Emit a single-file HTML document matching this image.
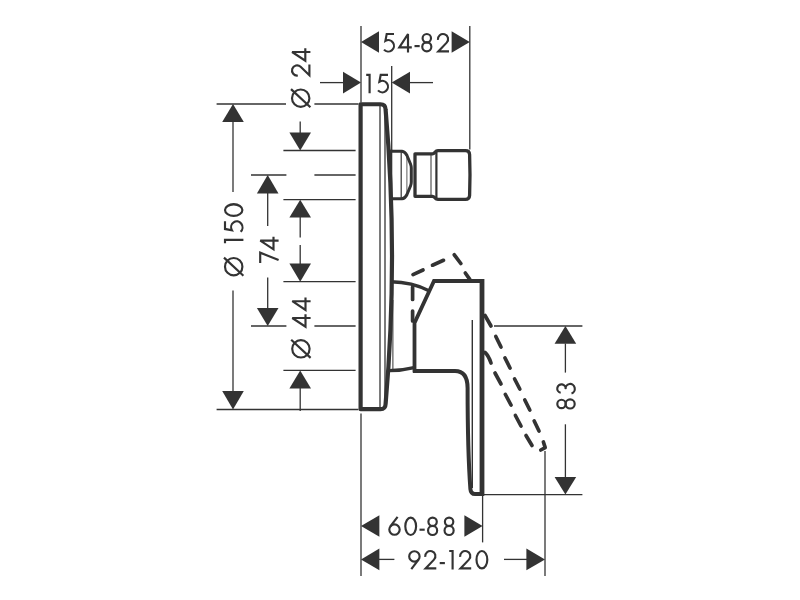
<!DOCTYPE html>
<html><head><meta charset="utf-8"><title>Dimension drawing</title>
<style>
html,body{margin:0;padding:0;background:#fff;font-family:"Liberation Sans",sans-serif;}
svg{display:block;}
</style></head>
<body>
<svg width="800" height="600" viewBox="0 0 800 600">
<rect x="0" y="0" width="800" height="600" fill="#fff"/>
<line x1="216.6" y1="104" x2="286" y2="104" stroke="#333" stroke-width="1.3"/>
<line x1="314.4" y1="104" x2="358.5" y2="104" stroke="#333" stroke-width="1.3"/>
<polygon points="233,104 222.20,122.00 243.80,122.00" fill="#333"/>
<line x1="233" y1="121.5" x2="233" y2="192" stroke="#333" stroke-width="1.3"/>
<line x1="233" y1="290.6" x2="233" y2="391.5" stroke="#333" stroke-width="1.3"/>
<polygon points="233,409.5 243.80,391.00 222.20,391.00" fill="#333"/>
<line x1="216.6" y1="409.5" x2="358.5" y2="409.5" stroke="#333" stroke-width="1.3"/>
<line x1="300.2" y1="121.4" x2="300.2" y2="133" stroke="#333" stroke-width="1.3"/>
<polygon points="300.2,150.5 311.00,132.40 289.40,132.40" fill="#333"/>
<line x1="283.4" y1="150.5" x2="355.6" y2="150.5" stroke="#333" stroke-width="1.3"/>
<line x1="251" y1="175" x2="286.4" y2="175" stroke="#333" stroke-width="1.3"/>
<line x1="314.4" y1="175" x2="355.6" y2="175" stroke="#333" stroke-width="1.3"/>
<polygon points="267.7,175 256.90,193.40 278.50,193.40" fill="#333"/>
<line x1="267.7" y1="193" x2="267.7" y2="226" stroke="#333" stroke-width="1.3"/>
<line x1="267.7" y1="277.5" x2="267.7" y2="308.5" stroke="#333" stroke-width="1.3"/>
<polygon points="267.7,326 278.50,308.00 256.90,308.00" fill="#333"/>
<line x1="251" y1="326" x2="286.4" y2="326" stroke="#333" stroke-width="1.3"/>
<line x1="314.4" y1="326" x2="355.6" y2="326" stroke="#333" stroke-width="1.3"/>
<line x1="283.4" y1="199.7" x2="355.6" y2="199.7" stroke="#333" stroke-width="1.3"/>
<polygon points="300.2,199.7 289.40,217.50 311.00,217.50" fill="#333"/>
<line x1="300.2" y1="217" x2="300.2" y2="237.5" stroke="#333" stroke-width="1.3"/>
<line x1="300.2" y1="245" x2="300.2" y2="264" stroke="#333" stroke-width="1.3"/>
<polygon points="300.2,281.7 311.00,263.50 289.40,263.50" fill="#333"/>
<line x1="283.4" y1="281.7" x2="355.6" y2="281.7" stroke="#333" stroke-width="1.3"/>
<line x1="283.4" y1="370.4" x2="355.6" y2="370.4" stroke="#333" stroke-width="1.3"/>
<polygon points="300.2,370.4 289.40,388.40 311.00,388.40" fill="#333"/>
<line x1="300.2" y1="388" x2="300.2" y2="411" stroke="#333" stroke-width="1.3"/>
<line x1="361" y1="26" x2="361" y2="102.5" stroke="#333" stroke-width="1.3"/>
<line x1="469.8" y1="26" x2="469.8" y2="149.5" stroke="#333" stroke-width="1.3"/>
<polygon points="361,42 379.00,52.80 379.00,31.20" fill="#333"/>
<polygon points="469.8,42 451.60,31.20 451.60,52.80" fill="#333"/>
<line x1="320" y1="82.6" x2="343.5" y2="82.6" stroke="#333" stroke-width="1.3"/>
<polygon points="361,82.6 343.00,71.80 343.00,93.40" fill="#333"/>
<line x1="391.7" y1="66" x2="391.7" y2="150" stroke="#333" stroke-width="1.3"/>
<polygon points="391.7,82.6 410.00,93.40 410.00,71.80" fill="#333"/>
<line x1="409.5" y1="82.6" x2="433" y2="82.6" stroke="#333" stroke-width="1.3"/>
<line x1="494" y1="326" x2="582.4" y2="326" stroke="#333" stroke-width="1.3"/>
<polygon points="565.4,326 554.60,343.80 576.20,343.80" fill="#333"/>
<line x1="565.4" y1="343.5" x2="565.4" y2="372.6" stroke="#333" stroke-width="1.3"/>
<line x1="565.4" y1="424.3" x2="565.4" y2="477.5" stroke="#333" stroke-width="1.3"/>
<polygon points="565.4,494.6 576.20,477.00 554.60,477.00" fill="#333"/>
<line x1="483" y1="494.6" x2="582.4" y2="494.6" stroke="#333" stroke-width="1.3"/>
<line x1="361" y1="413.5" x2="361" y2="576" stroke="#333" stroke-width="1.3"/>
<polygon points="361,526 379.40,536.80 379.40,515.20" fill="#333"/>
<polygon points="482.6,526 464.40,515.20 464.40,536.80" fill="#333"/>
<line x1="482.6" y1="494" x2="482.6" y2="542.4" stroke="#333" stroke-width="1.3"/>
<polygon points="361,559.4 379.40,570.20 379.40,548.60" fill="#333"/>
<line x1="379" y1="559.4" x2="394.4" y2="559.4" stroke="#333" stroke-width="1.3"/>
<line x1="504" y1="559.4" x2="527" y2="559.4" stroke="#333" stroke-width="1.3"/>
<polygon points="545,559.4 526.40,548.60 526.40,570.20" fill="#333"/>
<line x1="545" y1="451" x2="545" y2="576" stroke="#333" stroke-width="1.3"/>
<g transform="translate(383,33)" fill="none" stroke="#333" stroke-width="2.15"><path d="M11,1 L3.7,1 L2.4,7.9 A5.7,5.7 0 1 1 1,16.6"/></g>
<g transform="translate(397.6,33)" fill="none" stroke="#333" stroke-width="2.15"><path d="M10.4,19.4 L10.4,1.1 L1.7,14.3 L14.2,14.3" stroke-miterlimit="3"/></g>
<g transform="translate(414.5,33)" fill="none" stroke="#333" stroke-width="2.15"><path d="M0,13.1 L5.2,13.1"/></g>
<g transform="translate(421.2,33)" fill="none" stroke="#333" stroke-width="2.15"><circle cx="5.6" cy="5.2" r="4.2"/><circle cx="5.6" cy="13.85" r="4.55"/></g>
<g transform="translate(437,33)" fill="none" stroke="#333" stroke-width="2.15"><path d="M0.95,6.81 A5.1,5.1 0 1 1 9.69,9.62 L1.3,18.4 L12,18.4"/></g>
<g transform="translate(366.2,73.8)" fill="none" stroke="#333" stroke-width="2.15"><path d="M0,1 L3.4,1 L3.4,19.4"/></g>
<g transform="translate(377,73.8)" fill="none" stroke="#333" stroke-width="2.15"><path d="M11,1 L3.7,1 L2.4,7.9 A5.7,5.7 0 1 1 1,16.6"/></g>
<g transform="translate(388.3,516.6)" fill="none" stroke="#333" stroke-width="2.15"><circle cx="6.2" cy="13.0" r="5.2"/><path d="M9.3,0.2 L2.04,9.88"/></g>
<g transform="translate(404.3,516.6)" fill="none" stroke="#333" stroke-width="2.15"><ellipse cx="6.4" cy="9.7" rx="5.4" ry="8.7"/></g>
<g transform="translate(419.5,516.6)" fill="none" stroke="#333" stroke-width="2.15"><path d="M0,13.1 L5.2,13.1"/></g>
<g transform="translate(427,516.6)" fill="none" stroke="#333" stroke-width="2.15"><circle cx="5.6" cy="5.2" r="4.2"/><circle cx="5.6" cy="13.85" r="4.55"/></g>
<g transform="translate(443.5,516.6)" fill="none" stroke="#333" stroke-width="2.15"><circle cx="5.6" cy="5.2" r="4.2"/><circle cx="5.6" cy="13.85" r="4.55"/></g>
<g transform="translate(408.2,550)" fill="none" stroke="#333" stroke-width="2.15"><circle cx="6.2" cy="6.4" r="5.2"/><path d="M3.1,19.2 L10.36,9.52"/></g>
<g transform="translate(424.3,550)" fill="none" stroke="#333" stroke-width="2.15"><path d="M0.95,6.81 A5.1,5.1 0 1 1 9.69,9.62 L1.3,18.4 L12,18.4"/></g>
<g transform="translate(439.7,550)" fill="none" stroke="#333" stroke-width="2.15"><path d="M0,13.1 L5.2,13.1"/></g>
<g transform="translate(449.2,550)" fill="none" stroke="#333" stroke-width="2.15"><path d="M0,1 L3.4,1 L3.4,19.4"/></g>
<g transform="translate(459.2,550)" fill="none" stroke="#333" stroke-width="2.15"><path d="M0.95,6.81 A5.1,5.1 0 1 1 9.69,9.62 L1.3,18.4 L12,18.4"/></g>
<g transform="translate(475.5,550)" fill="none" stroke="#333" stroke-width="2.15"><ellipse cx="6.4" cy="9.7" rx="5.4" ry="8.7"/></g>
<g transform="translate(291.0,107.9) rotate(-90) scale(1,1)" fill="none" stroke="#333" stroke-width="2.15"><circle cx="9.7" cy="9.7" r="8.7"/><path d="M0.6,19.4 L18.8,0.0"/></g>
<g transform="translate(291.0,76.5) rotate(-90) scale(1,1)" fill="none" stroke="#333" stroke-width="2.15"><path d="M0.95,6.81 A5.1,5.1 0 1 1 9.69,9.62 L1.3,18.4 L12,18.4"/></g>
<g transform="translate(291.0,62.4) rotate(-90) scale(1,1)" fill="none" stroke="#333" stroke-width="2.15"><path d="M10.4,19.4 L10.4,1.1 L1.7,14.3 L14.2,14.3" stroke-miterlimit="3"/></g>
<g transform="translate(224.0,276.4) rotate(-90) scale(1,1)" fill="none" stroke="#333" stroke-width="2.15"><circle cx="9.7" cy="9.7" r="8.7"/><path d="M0.6,19.4 L18.8,0.0"/></g>
<g transform="translate(224.0,243.3) rotate(-90) scale(1,1)" fill="none" stroke="#333" stroke-width="2.15"><path d="M0,1 L3.4,1 L3.4,19.4"/></g>
<g transform="translate(224.0,232.8) rotate(-90) scale(1.04,1)" fill="none" stroke="#333" stroke-width="2.15"><path d="M11,1 L3.7,1 L2.4,7.9 A5.7,5.7 0 1 1 1,16.6"/></g>
<g transform="translate(224.0,216.9) rotate(-90) scale(1.07,1)" fill="none" stroke="#333" stroke-width="2.15"><ellipse cx="6.4" cy="9.7" rx="5.4" ry="8.7"/></g>
<g transform="translate(259.2,263.3) rotate(-90) scale(1,1)" fill="none" stroke="#333" stroke-width="2.15"><path d="M0.3,1 L10.6,1 L3.2,19.4" stroke-miterlimit="2"/></g>
<g transform="translate(259.2,251) rotate(-90) scale(1,1)" fill="none" stroke="#333" stroke-width="2.15"><path d="M10.4,19.4 L10.4,1.1 L1.7,14.3 L14.2,14.3" stroke-miterlimit="3"/></g>
<g transform="translate(291.2,358.5) rotate(-90) scale(1,1)" fill="none" stroke="#333" stroke-width="2.15"><circle cx="9.7" cy="9.7" r="8.7"/><path d="M0.6,19.4 L18.8,0.0"/></g>
<g transform="translate(291.2,328.4) rotate(-90) scale(1,1)" fill="none" stroke="#333" stroke-width="2.15"><path d="M10.4,19.4 L10.4,1.1 L1.7,14.3 L14.2,14.3" stroke-miterlimit="3"/></g>
<g transform="translate(291.2,311.6) rotate(-90) scale(1,1)" fill="none" stroke="#333" stroke-width="2.15"><path d="M10.4,19.4 L10.4,1.1 L1.7,14.3 L14.2,14.3" stroke-miterlimit="3"/></g>
<g transform="translate(556.3,409.5) rotate(-90) scale(1,1)" fill="none" stroke="#333" stroke-width="2.15"><circle cx="5.6" cy="5.2" r="4.2"/><circle cx="5.6" cy="13.85" r="4.55"/></g>
<g transform="translate(556.3,394.4) rotate(-90) scale(1,1)" fill="none" stroke="#333" stroke-width="2.15"><path d="M1.7,4.4 A4.2,4.2 0 1 1 5.2,9.3 A4.9,4.6 0 1 1 0.9,15.2"/></g>
<path d="M360.6,104.25 L380.5,104.25 Q385.4,104.25 385.6,109.5 A1697,1697 0 0 1 385.6,404 Q385.4,409.2 380.5,409.2 L360.6,409.2 Z" fill="none" stroke="#333" stroke-width="4.2" stroke-linejoin="round"/>
<line x1="380" y1="106" x2="380" y2="407.5" stroke="#333" stroke-width="1.3"/>
<line x1="385" y1="112" x2="385" y2="401" stroke="#333" stroke-width="1.3"/>
<path d="M391,281.8 Q412,282 429.5,291" fill="none" stroke="#333" stroke-width="3.4" />
<path d="M389,370.6 Q402,370.6 414,367.6" fill="none" stroke="#333" stroke-width="3.4" />
<line x1="392.9" y1="300" x2="392.9" y2="369.5" stroke="#333" stroke-width="1.0"/>
<path d="M414.5,372.6 L414.5,323 L434,281 L482,281" fill="none" stroke="#333" stroke-width="3.8" stroke-linejoin="miter"/>
<line x1="482" y1="279.1" x2="482" y2="495.7" stroke="#333" stroke-width="4.8"/>
<path d="M413,371 L455,371 Q467.5,371 467.6,388 C467.6,430 469,470 470.4,489 Q470.8,494 475,494 L484,494" fill="none" stroke="#333" stroke-width="4.0" />
<line x1="472.3" y1="320" x2="472.3" y2="488" stroke="#333" stroke-width="1.4"/>
<path d="M390.6,151.2 L402,151.2 Q405,151.5 407,155.5 L410.5,164 Q411.3,166 411.3,168 L411.3,182 Q411.3,184 410.5,186 L407,194.5 Q405,198.6 402,198.8 L390.6,198.8" fill="none" stroke="#333" stroke-width="3" />
<line x1="390.8" y1="149.7" x2="390.8" y2="200.3" stroke="#333" stroke-width="3"/>
<line x1="401.2" y1="152" x2="401.2" y2="198" stroke="#333" stroke-width="1.2"/>
<line x1="406.9" y1="157" x2="406.9" y2="193" stroke="#333" stroke-width="0.8"/>
<path d="M415,153.8 L432.5,153.8 Q434,153.6 435,152.2 Q436.2,150.7 438,150.7 L465.5,150.7 Q469.4,150.7 469.6,154.5 Q470.4,175 469.6,195.5 Q469.4,199.4 465.5,199.4 L438,199.4 Q436.2,199.4 435,197.9 Q434,196.5 432.5,196.3 L415,196.3 Z" fill="none" stroke="#333" stroke-width="3.3" stroke-linejoin="round"/>
<line x1="431" y1="154" x2="431" y2="196" stroke="#333" stroke-width="1.0"/>
<line x1="436.4" y1="152" x2="436.4" y2="198" stroke="#333" stroke-width="2.2"/>
<line x1="412.6" y1="287" x2="412.6" y2="299.5" stroke="#333" stroke-width="3.7" stroke-linecap="round"/>
<line x1="412.6" y1="311" x2="412.6" y2="321" stroke="#333" stroke-width="3.7" stroke-linecap="round"/>
<line x1="413" y1="274.6" x2="423" y2="270" stroke="#333" stroke-width="3.7" stroke-linecap="round"/>
<line x1="432.5" y1="265.2" x2="443.5" y2="260.3" stroke="#333" stroke-width="3.7" stroke-linecap="round"/>
<path d="M454.3,254.8 L460.8,263.5" fill="none" stroke="#333" stroke-width="3.7" stroke-linecap="round"/>
<line x1="465.3" y1="273" x2="469.8" y2="279.3" stroke="#333" stroke-width="3.7" stroke-linecap="round"/>
<line x1="485" y1="315.5" x2="491" y2="326" stroke="#333" stroke-width="3.7" stroke-linecap="round"/>
<line x1="495.8" y1="336.5" x2="501" y2="347" stroke="#333" stroke-width="3.7" stroke-linecap="round"/>
<line x1="505" y1="358" x2="510" y2="368" stroke="#333" stroke-width="3.7" stroke-linecap="round"/>
<line x1="514.6" y1="379" x2="519.8" y2="389" stroke="#333" stroke-width="3.7" stroke-linecap="round"/>
<line x1="524.8" y1="400" x2="529.8" y2="410" stroke="#333" stroke-width="3.7" stroke-linecap="round"/>
<line x1="534.2" y1="421" x2="539" y2="431" stroke="#333" stroke-width="3.7" stroke-linecap="round"/>
<path d="M543.4,442 L545.2,447.6 L540.8,450" fill="none" stroke="#333" stroke-width="3.7" stroke-linecap="round" stroke-linejoin="round"/>
<path d="M485,352.5 Q488.5,355.5 491,363" fill="none" stroke="#333" stroke-width="3.7" stroke-linecap="round"/>
<line x1="495" y1="373" x2="501" y2="384" stroke="#333" stroke-width="3.7" stroke-linecap="round"/>
<line x1="505.4" y1="394.5" x2="511" y2="405" stroke="#333" stroke-width="3.7" stroke-linecap="round"/>
<line x1="515.4" y1="415.5" x2="521" y2="426" stroke="#333" stroke-width="3.7" stroke-linecap="round"/>
<line x1="526" y1="435.5" x2="532" y2="445.5" stroke="#333" stroke-width="3.7" stroke-linecap="round"/>
</svg>
</body></html>
